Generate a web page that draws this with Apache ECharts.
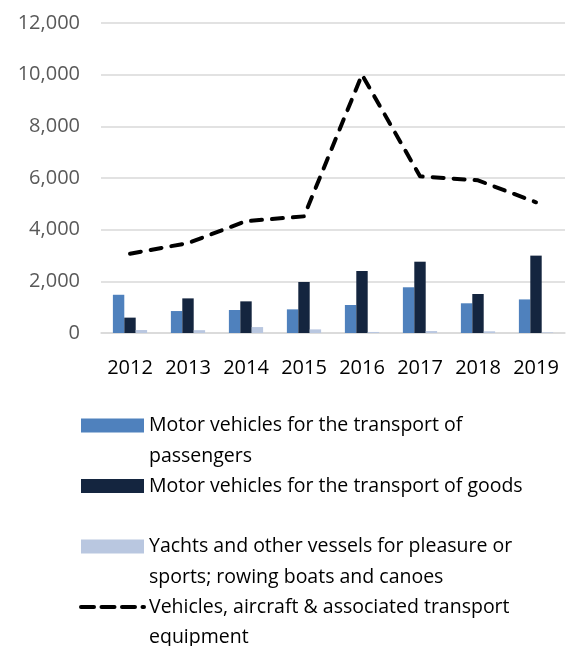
<!DOCTYPE html>
<html>
<head>
<meta charset="utf-8">
<title>Transport equipment</title>
<script src="https://cdn.jsdelivr.net/npm/echarts@6/dist/echarts.min.js"></script>
<style>
  html, body { margin: 0; padding: 0; background: #fff; }
  #chart { width: 566px; height: 646px; }
</style>
</head>
<body>
<div id="chart"></div>
<script>
// --- data -------------------------------------------------------------
const years = ['2012', '2013', '2014', '2015', '2016', '2017', '2018', '2019'];
const passengers = [1480, 850, 890, 915, 1085, 1770, 1150, 1300];
const goods = [595, 1340, 1225, 1975, 2400, 2760, 1510, 2995];
const yachts = [115, 110, 230, 140, 40, 75, 65, 25];
const vehiclesTotal = [3070, 3480, 4330, 4515, 10000, 6065, 5910, 5060];

const yTicks = [0, 2000, 4000, 6000, 8000, 10000, 12000];

const names = {
  pass: 'Motor vehicles for the transport of passengers',
  goods: 'Motor vehicles for the transport of goods',
  yachts: 'Yachts and other vessels for pleasure or sports; rowing boats and canoes',
  total: 'Vehicles, aircraft & associated transport equipment',
};
// legend labels as wrapped in the original (every entry takes two lines)
const legendLines = {
  [names.pass]: ['Motor vehicles for the transport of', 'passengers'],
  [names.goods]: ['Motor vehicles for the transport of goods', ' '],
  [names.yachts]: ['Yachts and other vessels for pleasure or', 'sports; rowing boats and canoes'],
  [names.total]: ['Vehicles, aircraft & associated transport', 'equipment'],
};

const FONT = '"Open Sans", "Noto Sans", sans-serif';
const LINE_H = 30.5;

// Legend text is centred on its icon; a blank first line pushes the real
// first line onto the icon, as in the original.
function legendText(name) {
  const lines = legendLines[name] || [name];
  return ['{s| }'].concat(lines.map((l) => '{t|' + l + '}')).join('\n');
}

const chart = echarts.init(document.getElementById('chart'), null, { renderer: 'canvas' });

chart.setOption({
  animation: false,
  backgroundColor: '#fff',
  textStyle: { fontFamily: FONT },
  grid: { left: 101, right: 1, top: 23, bottom: 313, containLabel: false },
  xAxis: {
    type: 'category',
    data: years,
    axisLine: { lineStyle: { color: '#d9d9d9', width: 1.5 } },
    axisTick: { show: false },
    axisLabel: { color: '#000', fontSize: 20, margin: 25, interval: 0, fontFamily: FONT },
  },
  yAxis: {
    type: 'value',
    min: yTicks[0],
    max: yTicks[yTicks.length - 1],
    interval: yTicks[1] - yTicks[0],
    axisLine: { show: false },
    axisTick: { show: false },
    splitLine: { lineStyle: { color: '#d9d9d9', width: 1.5 } },
    axisLabel: {
      color: '#595959', fontSize: 20, margin: 21, fontFamily: FONT,
      formatter: (v) => v.toLocaleString('en-US'),
    },
  },
  legend: {
    orient: 'vertical',
    left: 79,
    top: 385,
    height: 600, // room so the column never wraps (blank lines overlap)
    padding: 0,
    itemWidth: 63,
    itemHeight: 14,
    itemGap: -20.5,
    textStyle: {
      color: '#000', fontSize: 19.5, fontFamily: FONT,
      rich: {
        s: { fontSize: 19.5, lineHeight: LINE_H, fontFamily: FONT },
        t: { color: '#000', fontSize: 19.5, lineHeight: LINE_H, fontFamily: FONT },
      },
    },
    formatter: legendText,
    data: [
      { name: names.pass, icon: 'rect' },
      { name: names.goods, icon: 'rect' },
      { name: names.yachts, icon: 'rect' },
      {
        name: names.total,
        lineStyle: { width: 4, type: [13, 7.5] },
        itemStyle: { color: 'rgba(0,0,0,0)', borderColor: 'rgba(0,0,0,0)', borderWidth: 0 },
      },
    ],
  },
  series: [
    {
      name: names.pass, type: 'bar', data: passengers,
      itemStyle: { color: '#4f81bd' },
      barGap: '0%', barCategoryGap: '41%',
    },
    {
      name: names.goods, type: 'bar', data: goods,
      itemStyle: { color: '#14253f' },
    },
    {
      name: names.yachts, type: 'bar', data: yachts,
      itemStyle: { color: '#b9c7e0' },
    },
    {
      name: names.total, type: 'line', data: vehiclesTotal,
      symbol: 'none',
      lineStyle: { color: '#000', width: 4, type: [11, 10], cap: 'round', join: 'round' },
      itemStyle: { color: '#000' },
    },
  ],
});
</script>
</body>
</html>
